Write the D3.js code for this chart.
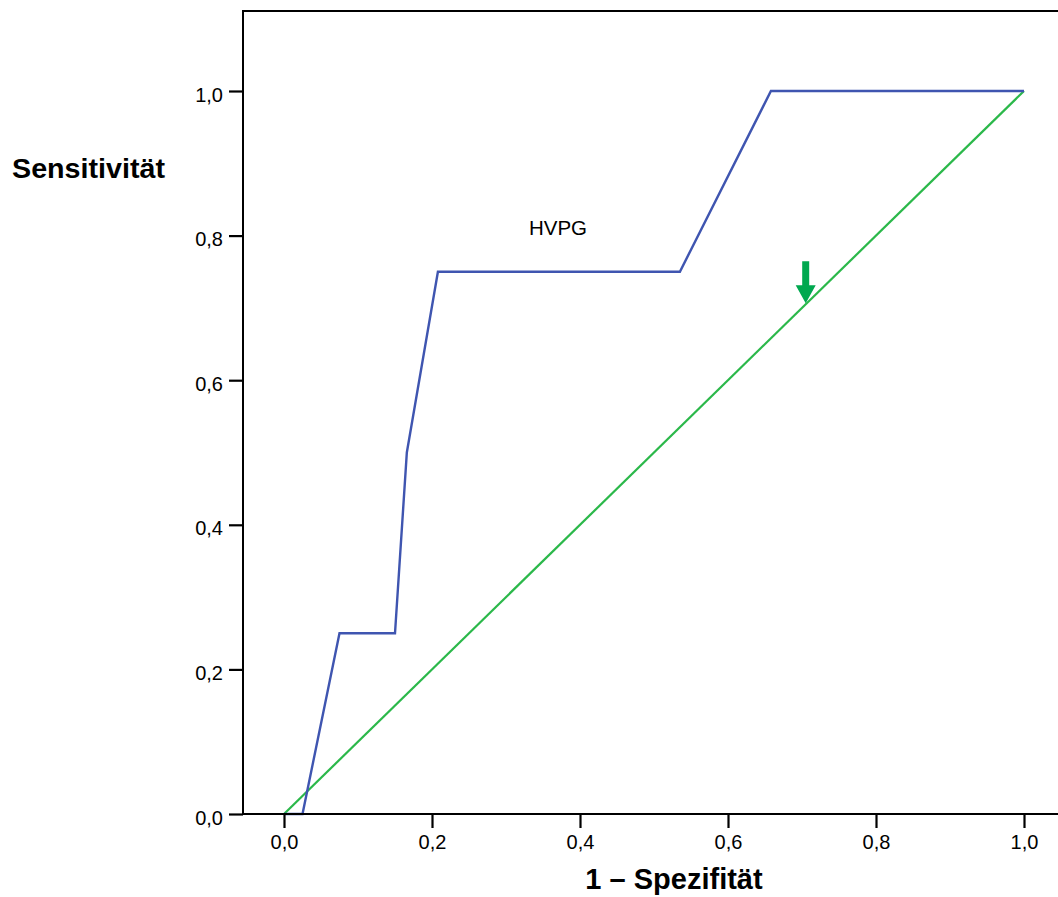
<!DOCTYPE html>
<html><head><meta charset="utf-8">
<script src="https://cdn.jsdelivr.net/npm/d3@7"></script>
<style>body{margin:0;background:#fff}svg{display:block}text{font-family:"Liberation Sans",Arial,sans-serif}</style>
</head><body><svg id="c" width="1058" height="897"></svg>
<script>
const rocX = [0.0, 0.025, 0.075, 0.15, 0.166, 0.208, 0.535, 0.658, 1.0];
const rocY = [0.0, 0.0, 0.25, 0.25, 0.50, 0.75, 0.75, 1.0, 1.0];
const refX = [0, 1];
const refY = [0, 1];
const tickValues = [0, 0.2, 0.4, 0.6, 0.8, 1.0];
const tickLabels = ["0,0", "0,2", "0,4", "0,6", "0,8", "1,0"];
const seriesLabel = "HVPG";
const arrowX = 0.705;

(function () {
const svg = d3.select("#c");
const x = d3.scaleLinear().domain([0, 1]).range([284, 1024]);
const y = d3.scaleLinear().domain([0, 1]).range([814, 91]);
const pLeft = 243, pTop = 11, pRight = 1058, pBottom = 814;

const line = d3.line().x(d => x(d[0])).y(d => y(d[1]));

svg.append("path").datum(refX.map((v, i) => [v, refY[i]]))
  .attr("d", line).attr("fill", "none").attr("stroke", "#2bb84a").attr("stroke-width", 2.2);
svg.append("path").datum(rocX.map((v, i) => [v, rocY[i]]))
  .attr("d", line).attr("fill", "none").attr("stroke", "#3f55b0").attr("stroke-width", 2.4)
  .attr("stroke-linejoin", "miter");

svg.append("line").attr("x1", pLeft).attr("x2", pLeft).attr("y1", pTop - 1).attr("y2", pBottom + 1).attr("stroke", "#000").attr("stroke-width", 2);
svg.append("line").attr("x1", pLeft).attr("x2", pRight).attr("y1", pTop).attr("y2", pTop).attr("stroke", "#000").attr("stroke-width", 2);

const xAxis = d3.axisBottom(x).tickValues(tickValues).tickFormat((d, i) => tickLabels[i]).tickSize(14).tickPadding(7).tickSizeOuter(0);
const gx = svg.append("g").attr("transform", `translate(0,${pBottom})`).call(xAxis);
gx.select(".domain").attr("d", `M${pLeft},0H${pRight}`).attr("stroke-width", 2);
gx.selectAll(".tick line").attr("stroke-width", 2.2);
gx.selectAll(".tick text").attr("font-size", 20).attr("fill", "#000").attr("font-family", "Liberation Sans, Arial, sans-serif");

const yAxis = d3.axisLeft(y).tickValues(tickValues).tickFormat((d, i) => tickLabels[i]).tickSize(14).tickPadding(6).tickSizeOuter(0);
const gy = svg.append("g").attr("transform", `translate(${pLeft},0)`).call(yAxis);
gy.select(".domain").remove();
gy.selectAll(".tick line").attr("stroke-width", 2.2);
gy.selectAll(".tick text").attr("font-size", 20).attr("dy", "0.5em").attr("fill", "#000").attr("font-family", "Liberation Sans, Arial, sans-serif");

svg.append("text").attr("x", 674).attr("y", 889).attr("text-anchor", "middle")
  .attr("font-size", 29).attr("font-weight", "bold").text("1 – Spezifität");
svg.append("text").attr("x", 12).attr("y", 178).attr("text-anchor", "start")
  .attr("font-size", 27).attr("font-weight", "bold")
  .attr("textLength", 153).attr("lengthAdjust", "spacingAndGlyphs").text("Sensitivität");

svg.append("text").attr("x", 558).attr("y", 235).attr("text-anchor", "middle")
  .attr("font-size", 20.5).text(seriesLabel);

const ax = x(arrowX), ay = y(arrowX);
svg.append("path")
  .attr("d", `M${ax - 3.5},${ay - 43} H${ax + 3.5} V${ay - 19} H${ax + 10} L${ax},${ay - 1} L${ax - 10},${ay - 19} H${ax - 3.5} Z`)
  .attr("fill", "#00a84f");
})();
</script></body></html>
